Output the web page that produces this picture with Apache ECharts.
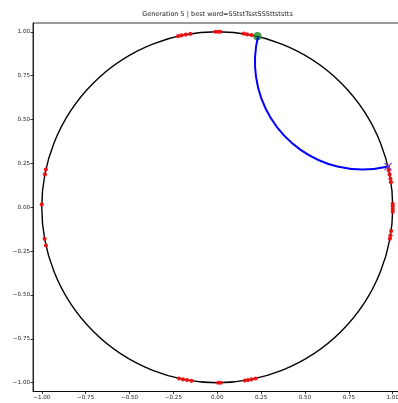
<!DOCTYPE html>
<html>
<head>
<meta charset="utf-8">
<script src="https://cdn.jsdelivr.net/npm/echarts@6/dist/echarts.min.js"></script>
<style>
html,body{margin:0;padding:0;background:#fff;overflow:hidden;}
#chart{width:404px;height:403px;}
</style>
</head>
<body>
<div id="chart"></div>
<script>
// ---- data ----
const titleText = 'Generation 5 | best word=SStstTsstSSSttststts';
const tickValues = [-1.0, -0.75, -0.5, -0.25, 0.0, 0.25, 0.5, 0.75, 1.0];
const axisRange = [-1.05, 1.05];
// boundary (unit circle) : centre x, centre y, radius
const unitCircle = [[0, 0, 1]];
// red points on the boundary
const redPoints = [
  [-0.223, 0.975], [-0.204, 0.979], [-0.179, 0.984], [-0.153, 0.988],
  [-0.010, 1.000], [0.005, 1.000], [0.018, 1.000],
  [0.151, 0.989], [0.170, 0.985], [0.195, 0.981],
  [-0.218, -0.976], [-0.195, -0.981], [-0.172, -0.985], [-0.147, -0.989],
  [0.005, -1.000], [0.020, -1.000],
  [0.157, -0.988], [0.175, -0.985], [0.195, -0.981], [0.219, -0.976],
  [-0.977, 0.215], [-0.982, 0.187], [-1.000, 0.016], [-0.984, -0.180], [-0.976, -0.218],
  [0.973, 0.232], [0.977, 0.211], [0.982, 0.187], [0.987, 0.162], [0.990, 0.143],
  [1.000, 0.020], [1.000, 0.005], [1.000, -0.010], [1.000, -0.025],
  [0.991, -0.136], [0.987, -0.161], [0.984, -0.179]
];
// start point (green) and end point (x marker)
const startPoint = [[0.229, 0.974]];
const endPoint = [[0.973, 0.232]];
// geodesic arc: centre x, centre y, radius
const geodesic = [[0.829, 0.829, 0.614]];

const FONT = 'DejaVu Sans';
const fmt = v => v.toFixed(2).replace('-', '\u2212');

function axisCfg() {
  return {
    type: 'value',
    min: axisRange[0],
    max: axisRange[1],
    splitLine: {show: false},
    axisLine: {show: true, onZero: false, lineStyle: {color: '#000', width: 0.8}},
    axisTick: {show: true, length: 2.5, customValues: tickValues, lineStyle: {color: '#000', width: 0.8}},
    axisLabel: {customValues: tickValues, formatter: fmt, fontSize: 5.6, color: '#222', fontFamily: FONT, margin: 3}
  };
}

const chart = echarts.init(document.getElementById('chart'), null, {renderer: 'canvas'});
chart.setOption({
  animation: false,
  backgroundColor: '#fff',
  graphic: [{
    type: 'text',
    x: 217.5,
    y: 14.5,
    style: {text: titleText, textAlign: 'center', textVerticalAlign: 'middle',
            fontSize: 6.5, fontFamily: FONT, fill: '#222'}
  }],
  grid: {
    left: 33, top: 23, width: 368.5, height: 368.5,
    show: true, borderColor: '#000', borderWidth: 0.8, backgroundColor: 'transparent'
  },
  xAxis: axisCfg(),
  yAxis: axisCfg(),
  series: [
    {
      type: 'custom',
      data: unitCircle,
      clip: false,
      z: 1,
      renderItem: function (params, api) {
        const c = api.coord([api.value(0), api.value(1)]);
        const r = api.size([api.value(2), 0])[0];
        return {type: 'circle', shape: {cx: c[0], cy: c[1], r: r},
                style: {fill: 'none', stroke: '#000', lineWidth: 1.4}};
      }
    },
    {
      type: 'scatter',
      data: redPoints,
      symbol: 'circle',
      symbolSize: 4.2,
      z: 2,
      itemStyle: {color: '#ee1111', opacity: 0.95}
    },
    {
      type: 'scatter',
      data: startPoint,
      symbol: 'circle',
      symbolSize: 8.5,
      z: 3,
      itemStyle: {color: '#1a861a'}
    },
    {
      type: 'custom',
      data: geodesic,
      clip: false,
      z: 4,
      renderItem: function (params, api) {
        const c = api.coord([api.value(0), api.value(1)]);
        const r = api.size([api.value(2), 0])[0];
        const p1 = api.coord(startPoint[0]);
        const p2 = api.coord(endPoint[0]);
        const a1 = Math.atan2(p1[1] - c[1], p1[0] - c[0]);
        const a2 = Math.atan2(p2[1] - c[1], p2[0] - c[0]);
        return {type: 'arc', shape: {cx: c[0], cy: c[1], r: r, startAngle: a1, endAngle: a2, clockwise: false},
                style: {fill: 'none', stroke: '#0000ff', lineWidth: 2}};
      }
    },
    {
      type: 'custom',
      data: endPoint,
      clip: false,
      z: 5,
      renderItem: function (params, api) {
        const p = api.coord([api.value(0), api.value(1)]);
        const h = 3.6;
        const st = {stroke: '#6a3ad0', lineWidth: 1.1};
        return {type: 'group', children: [
          {type: 'line', shape: {x1: p[0] - h, y1: p[1] - h, x2: p[0] + h, y2: p[1] + h}, style: st},
          {type: 'line', shape: {x1: p[0] - h, y1: p[1] + h, x2: p[0] + h, y2: p[1] - h}, style: st}
        ]};
      }
    }
  ]
});
</script>
</body>
</html>
